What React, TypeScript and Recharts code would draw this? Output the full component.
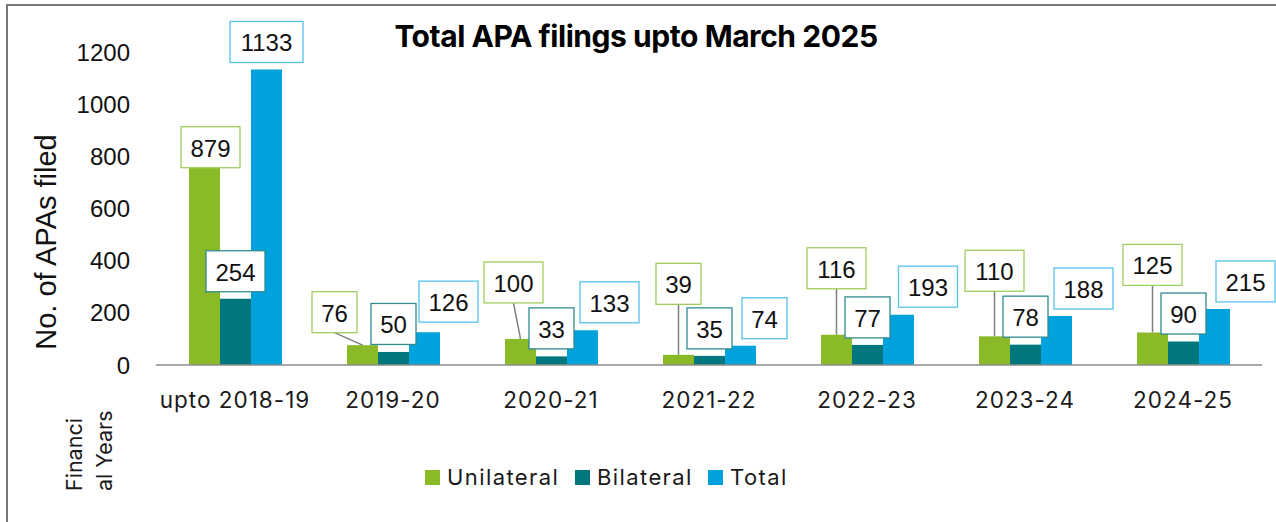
import React from 'react';
import { BarChart, Bar, XAxis, YAxis, LabelList } from 'recharts';

const categories = ['upto 2018-19', '2019-20', '2020-21', '2021-22', '2022-23', '2023-24', '2024-25'];
const unilateral = [879, 76, 100, 39, 116, 110, 125];
const bilateral = [254, 50, 33, 35, 77, 78, 90];
const total = [1133, 126, 133, 74, 193, 188, 215];
const yTicks = [0, 200, 400, 600, 800, 1000, 1200];

// label layout (offset of the label box from its bar, in px)
const uniLabelDx = [6, -28, -7, 0, 0, 0, 0];
const uniLabelGap = [-32, 12.5, 36, 50.5, 46, 45, 47];
const biLabelDx = [0, 0, 0, 0, 0, 0, 0];
const biLabelGap = [7, 7.5, 7.5, 7, 7, 7.5, 7.5];
const totLabelDx = [0, 24, 27, 24, 29.5, 27, 31];
const totLabelGap = [7, 10, 7.5, 7, 7.5, 7, 7];

const data = categories.map((name, i) => ({
  name,
  Unilateral: unilateral[i],
  Bilateral: bilateral[i],
  Total: total[i],
}));

const GREEN = '#8aba28';
const TEAL = '#00777d';
const BLUE = '#00a2de';

const makeLabel = (dxs: number[], gaps: number[], border: string) => (props: any) => {
  const { x, y, width, value } = props;
  const idx = props.index ?? 0;
  const bx = Number(x);
  const by = Number(y);
  const bw = Number(width);
  const barCx = bx + bw / 2;
  const s = String(value);
  const w = s.length * 14 + 17;
  const h = 41;
  const cx = barCx + (dxs[idx] ?? 0);
  const bottom = by - (gaps[idx] ?? 7);
  const top = bottom - h;
  const gap = gaps[idx] ?? 7;
  return (
    <g>
      {gap > 11 && (
        <line x1={cx} y1={bottom} x2={barCx} y2={by} stroke="#7f7f7f" strokeWidth={1.5} />
      )}
      <rect x={cx - w / 2} y={top} width={w} height={h} fill="#ffffff" stroke={border} strokeWidth={1.3} />
      <text
        x={cx}
        y={top + 30}
        textAnchor="middle"
        fontFamily="'Liberation Sans', Arial, sans-serif"
        fontSize={24}
        fill="#111111"
      >
        {s}
      </text>
    </g>
  );
};

const legendItems = [
  { name: 'Unilateral', color: GREEN, x: 425 },
  { name: 'Bilateral', color: TEAL, x: 575 },
  { name: 'Total', color: BLUE, x: 708 },
];

export default function App() {
  return (
    <div
      style={{
        position: 'absolute',
        left: 0,
        top: 0,
        width: 1276,
        height: 522,
        overflow: 'hidden',
        background: '#ffffff',
      }}
    >
      <div
        style={{
          position: 'absolute',
          left: 6,
          top: 4,
          width: 1400,
          height: 700,
          border: '2px solid #777777',
          boxSizing: 'border-box',
        }}
      />
      <div style={{ position: 'absolute', left: 0, top: 0 }}>
        <BarChart
          width={1276}
          height={522}
          data={data}
          margin={{ top: 52, right: 14, bottom: 127, left: 0 }}
          barGap={0}
          barSize={31}
        >
          <XAxis
            dataKey="name"
            height={30}
            interval={0}
            tickSize={0}
            tickMargin={27}
            tickLine={false}
            axisLine={{ stroke: '#8c8c8c', strokeWidth: 1.5 }}
            tick={{ fontFamily: 'Inter, sans-serif', fontSize: 22.5, fill: '#1a1a1a', letterSpacing: 1 }}
          />
          <YAxis
            width={156}
            domain={[0, 1200]}
            ticks={yTicks}
            interval={0}
            tickSize={0}
            tickMargin={26}
            axisLine={false}
            tickLine={false}
            tick={{ fontFamily: "'Liberation Sans', Arial, sans-serif", fontSize: 24, fill: '#111111' }}
          />
          <Bar dataKey="Unilateral" fill={GREEN} isAnimationActive={false}>
            <LabelList dataKey="Unilateral" content={makeLabel(uniLabelDx, uniLabelGap, '#9fcf5e')} />
          </Bar>
          <Bar dataKey="Bilateral" fill={TEAL} isAnimationActive={false}>
            <LabelList dataKey="Bilateral" content={makeLabel(biLabelDx, biLabelGap, '#2f8b90')} />
          </Bar>
          <Bar dataKey="Total" fill={BLUE} isAnimationActive={false}>
            <LabelList dataKey="Total" content={makeLabel(totLabelDx, totLabelGap, '#55c2ee')} />
          </Bar>
        </BarChart>
      </div>
      <svg
        width={1276}
        height={522}
        style={{ position: 'absolute', left: 0, top: 0, pointerEvents: 'none' }}
      >
        <text
          x={636}
          y={47}
          textAnchor="middle"
          fontFamily="Inter, sans-serif"
          fontWeight={700}
          fontSize={30}
          letterSpacing={-0.45}
          fill="#000000"
        >
          Total APA filings upto March 2025
        </text>
        <text
          transform="translate(56,242) rotate(-90)"
          textAnchor="middle"
          fontFamily="'Liberation Sans', Arial, sans-serif"
          fontSize={29}
          fill="#111111"
        >
          No. of APAs filed
        </text>
        <text
          transform="translate(82,491) rotate(-90)"
          fontFamily="Inter, sans-serif"
          fontSize={21.5}
          fill="#1a1a1a"
        >
          Financi
        </text>
        <text
          transform="translate(112,491) rotate(-90)"
          fontFamily="Inter, sans-serif"
          fontSize={21.5}
          fill="#1a1a1a"
        >
          al Years
        </text>
        {legendItems.map((it) => (
          <g key={it.name}>
            <rect x={it.x} y={470} width={15} height={15} fill={it.color} />
            <text
              x={it.x + 22}
              y={484.5}
              fontFamily="Inter, sans-serif"
              fontSize={22}
              letterSpacing={1.4}
              fill="#1a1a1a"
            >
              {it.name}
            </text>
          </g>
        ))}
      </svg>
    </div>
  );
}
